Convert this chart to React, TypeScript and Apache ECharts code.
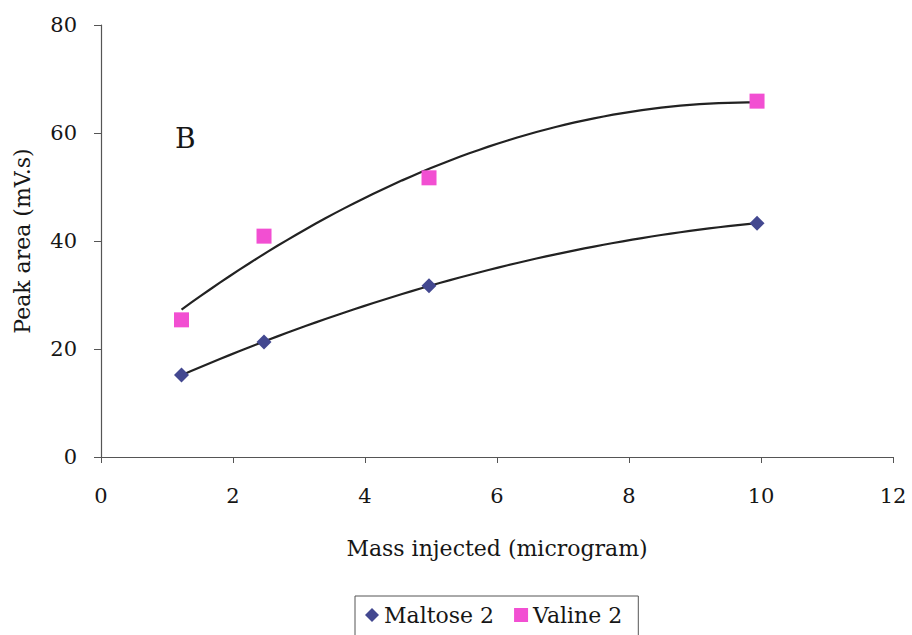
import React, { useEffect, useRef } from "react";
import * as echarts from "echarts";

const massX = [1.22, 2.47, 4.97, 9.94];
const maltose2 = [15.2, 21.3, 31.7, 43.3];
const valine2 = [25.4, 40.9, 51.7, 65.9];
const xTicks = [0, 2, 4, 6, 8, 10, 12];
const yTicks = [0, 20, 40, 60, 80];

// Quadratic least-squares trendline (as in the original spreadsheet trendline)
function quadFit(xs: number[], ys: number[]) {
  let n = xs.length, sx = 0, sx2 = 0, sx3 = 0, sx4 = 0, sy = 0, sxy = 0, sx2y = 0;
  for (let i = 0; i < n; i++) {
    const x = xs[i], y = ys[i];
    sx += x; sx2 += x * x; sx3 += x ** 3; sx4 += x ** 4;
    sy += y; sxy += x * y; sx2y += x * x * y;
  }
  const A = [
    [n, sx, sx2, sy],
    [sx, sx2, sx3, sxy],
    [sx2, sx3, sx4, sx2y],
  ];
  for (let i = 0; i < 3; i++) {
    let p = i;
    for (let r = i + 1; r < 3; r++) if (Math.abs(A[r][i]) > Math.abs(A[p][i])) p = r;
    [A[i], A[p]] = [A[p], A[i]];
    for (let r = 0; r < 3; r++) {
      if (r === i) continue;
      const f = A[r][i] / A[i][i];
      for (let c = i; c < 4; c++) A[r][c] -= f * A[i][c];
    }
  }
  const a = A[0][3] / A[0][0], b = A[1][3] / A[1][1], c = A[2][3] / A[2][2];
  const pts: number[][] = [];
  const x0 = xs[0], x1 = xs[xs.length - 1];
  const steps = 60;
  for (let k = 0; k <= steps; k++) {
    const x = x0 + ((x1 - x0) * k) / steps;
    pts.push([x, a + b * x + c * x * x]);
  }
  return pts;
}

const FONT = "'DejaVu Serif', serif";
const TXT = "#161616";

export default function App() {
  const ref = useRef<HTMLDivElement>(null);
  useEffect(() => {
    const chart = echarts.init(ref.current!, null, { renderer: "svg" });
    const axisLine = { show: true, lineStyle: { color: "#555", width: 1.2 } };
    chart.setOption({
      animation: false,
      backgroundColor: "#fff",
      grid: { left: 101, right: 19, top: 25, bottom: 178 },
      xAxis: {
        type: "value",
        min: xTicks[0],
        max: xTicks[xTicks.length - 1],
        interval: 2,
        name: "Mass injected (microgram)",
        nameLocation: "middle",
        nameGap: 80,
        nameTextStyle: { fontFamily: FONT, fontSize: 22, color: TXT },
        axisLine,
        axisTick: { show: true, length: 6, lineStyle: { color: "#555" } },
        axisLabel: { fontFamily: FONT, fontSize: 21, color: TXT, margin: 28 },
        splitLine: { show: false },
      },
      yAxis: {
        type: "value",
        min: yTicks[0],
        max: yTicks[yTicks.length - 1],
        interval: 20,
        name: "Peak area (mV.s)",
        nameLocation: "middle",
        nameGap: 68,
        nameTextStyle: { fontFamily: FONT, fontSize: 22, color: TXT },
        axisLine,
        axisTick: { show: true, length: 7, lineStyle: { color: "#555" } },
        axisLabel: { fontFamily: FONT, fontSize: 21, color: TXT, margin: 24 },
        splitLine: { show: false },
      },
      legend: {
        top: 596,
        left: 355,
        data: [
          { name: "Maltose 2", icon: "diamond" },
          { name: "Valine 2", icon: "rect" },
        ],
        itemWidth: 14,
        itemHeight: 14,
        itemGap: 20,
        padding: [8, 16, 20, 10],
        borderColor: "#555",
        borderWidth: 1,
        textStyle: { fontFamily: FONT, fontSize: 22, color: TXT },
      },
      graphic: [
        {
          type: "text",
          left: 175,
          top: 124,
          style: { text: "B", font: `28px ${FONT}`, fill: TXT },
        },
      ],
      series: [
        {
          name: "Maltose 2 trend",
          type: "line",
          data: quadFit(massX, maltose2),
          showSymbol: false,
          lineStyle: { color: "#222", width: 2.2 },
          silent: true,
          z: 1,
        },
        {
          name: "Valine 2 trend",
          type: "line",
          data: quadFit(massX, valine2),
          showSymbol: false,
          lineStyle: { color: "#222", width: 2.2 },
          silent: true,
          z: 1,
        },
        {
          name: "Maltose 2",
          type: "scatter",
          data: massX.map((x, i) => [x, maltose2[i]]),
          symbol: "diamond",
          symbolSize: 15,
          itemStyle: { color: "#434890", opacity: 1 },
          z: 3,
        },
        {
          name: "Valine 2",
          type: "scatter",
          data: massX.map((x, i) => [x, valine2[i]]),
          symbol: "rect",
          symbolSize: 15,
          itemStyle: { color: "#f24fd2", opacity: 1 },
          z: 3,
        },
      ],
    });
    return () => chart.dispose();
  }, []);
  return (
    <div
      ref={ref}
      style={{ position: "fixed", left: 0, top: 0, width: 912, height: 635 }}
    />
  );
}
